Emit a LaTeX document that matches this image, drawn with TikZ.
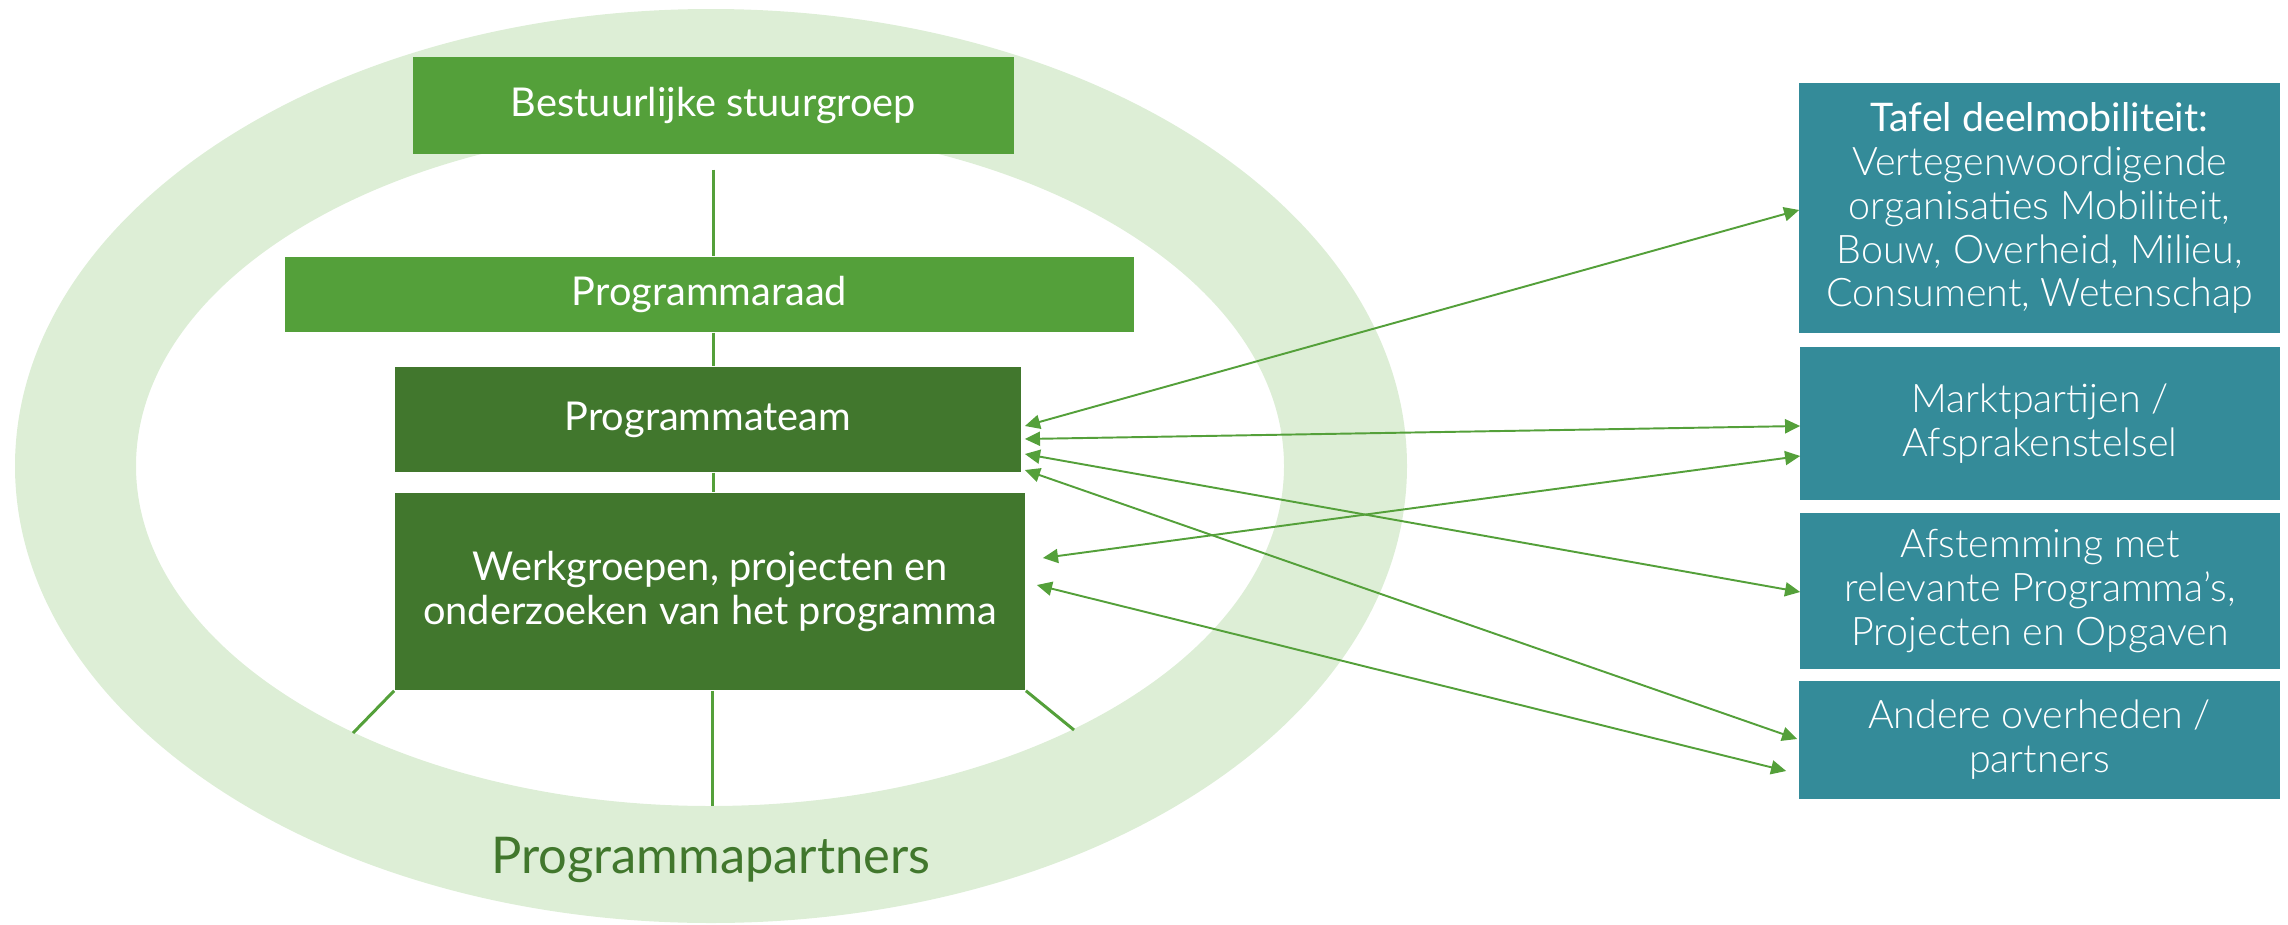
\documentclass[tikz,border=0pt]{standalone}
\usepackage{fontspec}
\setmainfont{Lato}
\newfontfamily\latolight{Lato Light}
\usetikzlibrary{arrows.meta}
\usetikzlibrary{calc}
\definecolor{ringgreen}{RGB}{221,238,214}
\definecolor{midgreen}{RGB}{84,160,58}
\definecolor{darkgreen}{RGB}{65,119,45}
\definecolor{tealbox}{RGB}{52,139,153}
\tikzset{
box/.style={inner sep=0pt, align=center, text=white, font=\fontsize{11.3}{12.4}\selectfont},
lightbox/.style={box, fill=midgreen},
darkbox/.style={box, fill=darkgreen},
sidebox/.style={box, fill=tealbox, font=\latolight\fontsize{11.2}{12.5}\selectfont},
link/.style={midgreen, line width=0.85pt},
pijl/.style={midgreen, line width=0.55pt, {Triangle[length=4.3pt,width=4pt]}-{Triangle[length=4.3pt,width=4pt]}}
}
\begin{document}
\begin{tikzpicture}[x=0.01cm,y=-0.01cm]
\useasboundingbox (0,0) rectangle (2288,924);

% Ring
\fill[ringgreen, even odd rule] (711,466) ellipse [x radius=696, y radius=457]
                                (710,466) ellipse [x radius=574, y radius=340];

% Coordinates
\coordinate (legL) at (353,733);
\coordinate (legR) at (1074,730);
\coordinate (ringbottom) at (712,806);

% Boxes
\node[lightbox, minimum width=6.01cm, minimum height=0.97cm] (bestuur) at (713.5,105.5) {Bestuurlijke stuurgroep};
\node[lightbox, minimum width=8.49cm, minimum height=0.75cm] (raad) at (709.5,294.5) {Programmaraad};
\node[darkbox, minimum width=6.26cm, minimum height=1.05cm] (team) at (708,419.5) {Programmateam};
\node[darkbox, minimum width=6.30cm, minimum height=1.97cm] (werk) at (710,591.5) {Werkgroepen, projecten en\\onderzoeken van het programma};
\node[font=\fontsize{14.4}{16}\selectfont, text=darkgreen, anchor=base] (partners) at (711,873) {Programmapartners};

\node[sidebox, minimum width=4.81cm, minimum height=2.50cm] (tafel) at (2039.5,208) {{\fontspec{Lato}Tafel deelmobiliteit:}\\Vertegenwoordigende\\organisaties Mobiliteit,\\Bouw, Overheid, Milieu,\\Consument, Wetenschap};
\node[sidebox, minimum width=4.80cm, minimum height=1.53cm] (markt) at (2040,423.5) {Marktpartijen /\\Afsprakenstelsel};
\node[sidebox, minimum width=4.80cm, minimum height=1.56cm] (afstem) at (2040,591) {Afstemming met\\relevante Programma’s,\\Projecten en Opgaven};
\node[sidebox, minimum width=4.81cm, minimum height=1.18cm] (andere) at (2039.5,740) {Andere overheden /\\partners};

% Lines
\draw[link] ($(bestuur.south)+(0,15)$) -- (raad.north -| bestuur.south);
\draw[link] (raad.south -| bestuur.south) -- (team.north -| bestuur.south);
\draw[link] (team.south -| bestuur.south) -- (werk.north -| bestuur.south);
\draw[link] (werk.south -| ringbottom) -- (ringbottom);
\draw[link] (werk.south west) -- (legL);
\draw[link] (werk.south east) -- (legR);

% Arrows
\draw[pijl] ($(team.east)+(3,6.5)$) -- ($(tafel.west)+(1,2)$);
\draw[pijl] ($(team.east)+(3,19.5)$) -- ($(markt.west)+(1,2.5)$);
\draw[pijl] ($(team.east)+(3,34.5)$) -- ($(afstem.west)+(1,1)$);
\draw[pijl] ($(team.east)+(3,50.5)$) -- ($(andere.west)+(-1,-1)$);
\draw[pijl] ($(werk.east)+(17,-33.5)$) -- ($(markt.west)+(1,32.5)$);
\draw[pijl] ($(werk.east)+(11,-6.5)$) -- ($(andere.west)+(-12,31)$);

\end{tikzpicture}
\end{document}
